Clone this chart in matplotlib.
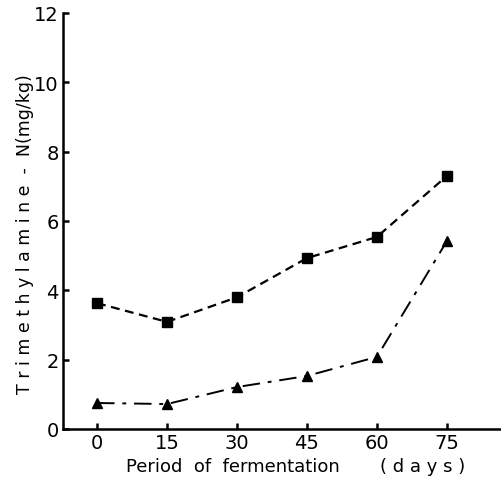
import matplotlib.pyplot as plt

# datos
days = [0, 15, 30, 45, 60, 75]
tma_square = [3.63, 3.09, 3.80, 4.93, 5.54, 7.30]
tma_triangle = [0.75, 0.72, 1.21, 1.53, 2.08, 5.42]
x_ticks = [0, 15, 30, 45, 60, 75]
y_ticks = [0, 2, 4, 6, 8, 10, 12]

fig = plt.figure(figsize=(5.01, 4.81), dpi=100)
ax = fig.add_axes([63 / 501, 51 / 481, 438 / 501, 416 / 481])

ax.plot(days, tma_square, color='black', linestyle=(0, (4, 2.5)), linewidth=1.6,
        marker='s', markersize=6.5, clip_on=False)
ax.plot(days, tma_triangle, color='black', linestyle=(0, (9, 4, 2, 4)), linewidth=1.4,
        marker='^', markersize=6.5, clip_on=False)

ax.set_xlim(-7.3, 86.6)
ax.set_ylim(0, 12)
ax.set_xticks(x_ticks)
ax.set_yticks(y_ticks)
ax.spines['top'].set_visible(False)
ax.spines['right'].set_visible(False)
ax.spines['left'].set_linewidth(1.8)
ax.spines['bottom'].set_linewidth(1.8)
ax.tick_params(direction='in', length=4, width=1.8, labelsize=14, pad=3)

ax.set_xlabel('Period  of  fermentation       ( d a y s )', fontsize=13)
ax.xaxis.set_label_coords(0.53, -0.068)
ax.set_ylabel('T r i m e t h y l a m i n e  -  N(mg/kg)', fontsize=12.5)
ax.yaxis.set_label_coords(-0.066, 0.47)

plt.savefig('out.png')
plt.close()
